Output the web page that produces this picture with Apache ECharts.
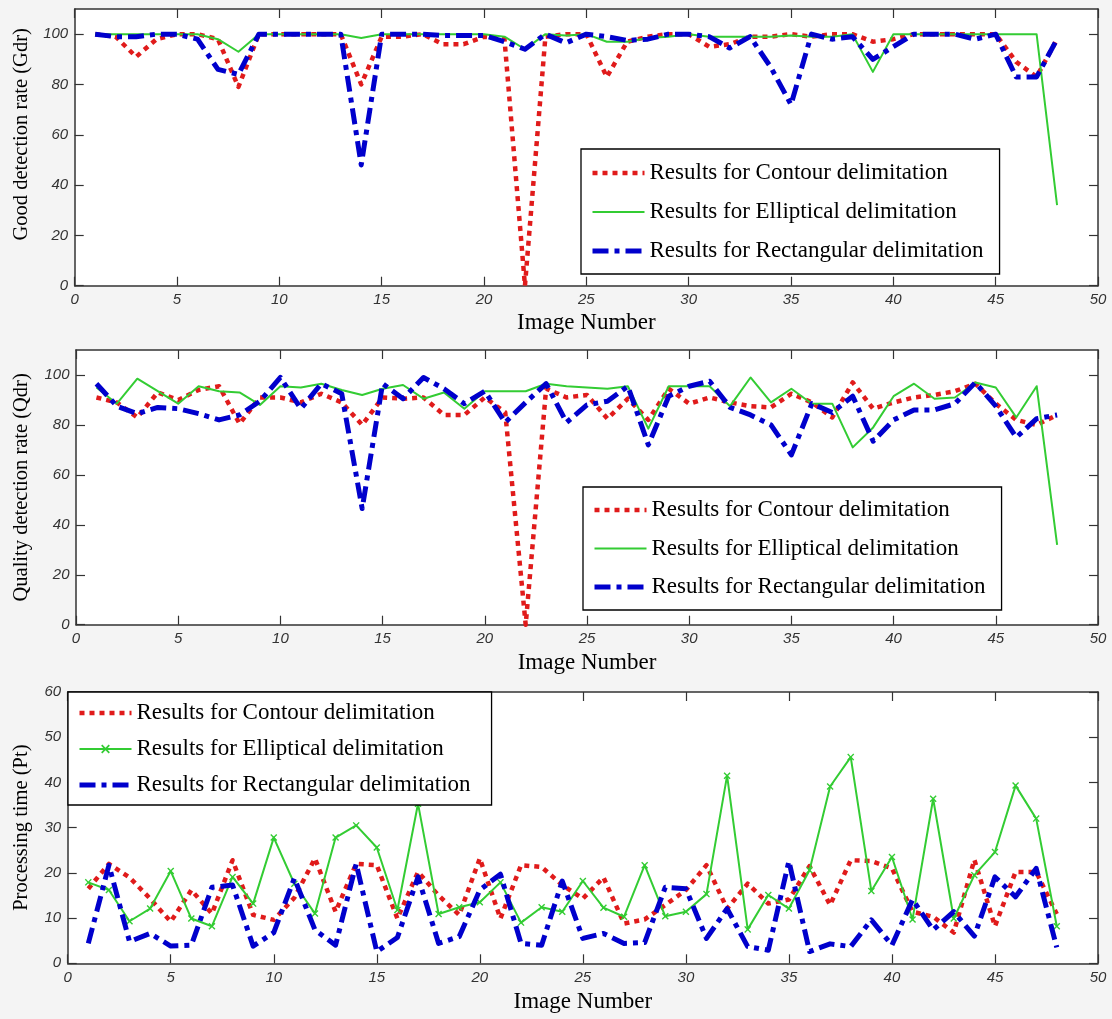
<!DOCTYPE html>
<html><head><meta charset="utf-8">
<script src="https://cdn.jsdelivr.net/npm/echarts@6/dist/echarts.min.js"></script>
<style>html,body{margin:0;padding:0;background:#f4f4f4}#c{width:1112px;height:1019px}</style>
</head><body><div id="c"></div>
<script>
// ---------- data ----------
const imageNumbers = [1,2,3,4,5,6,7,8,9,10,11,12,13,14,15,16,17,18,19,20,21,22,23,24,25,26,27,28,29,30,31,32,33,34,35,36,37,38,39,40,41,42,43,44,45,46,47,48];
const xTicks = [0,5,10,15,20,25,30,35,40,45,50];
const rateTicks = [0,20,40,60,80,100];
const timeTicks = [0,10,20,30,40,50,60];
const seriesLabels = ['Results for Contour delimitation','Results for Elliptical delimitation','Results for Rectangular delimitation'];
const xAxisTitle = 'Image Number';
const yAxisTitles = ['Good detection rate (Gdr)','Quality detection rate (Qdr)','Processing time (Pt)'];

// Panel 1: Good detection rate
const gdrContour = [100,99,91,98,100,100,98,79,100,100,100,100,100,80,99,99,100,96,96,99,98,0,99,100,100,83,97,99,100,100,95,96,99,99,100,99,100,100,97,98,100,100,100,100,100,89,83,98];
const gdrElliptical = [100,100,100,100,100,100,98,93,100,100,100,100,100,98.5,100,100,100,100,100,100,99,94,100,99.5,100,97,97,98.5,99,100,99,99,99,99,99.5,99,99,100,85,100,100,100,100,100,100,100,100,32];
const gdrRectangular = [100,99,99,100,100,98,86,84,100,100,100,100,100,48,100,100,100,99.5,99.5,99.5,97,94,100,96.5,100,99,97.5,98,100,100,99,94.5,99,87,72,100,98,99,90,95,100,100,100,98,100,83,83,98];

// Panel 2: Quality detection rate
const qdrContour = [91,89,83,93,90,94,95.5,80.5,91,91,89,92.5,89,80,91,90.5,91,84,84,91,85,0,94.5,91,92,82.5,90.5,82,94.5,88.5,91,89,87.5,87,92.5,89,83,97,86.5,89,91,92,93.5,96.5,88.5,82,80,84];
const qdrElliptical = [95,88.5,98.5,93.5,88.5,95.5,93.5,93,88,95.5,95,96.5,94,92,94.5,96,90.5,93,86.5,93.5,93.5,93.5,96.5,95.5,95,94.5,95.5,78.5,95.5,95.5,95.5,87.5,99,89,94.5,88.5,88.5,71,79,91.5,96.5,90.5,91,97,95,83,95.5,32];
const qdrRectangular = [96.5,87.5,84.5,87,86.5,84.5,82,84,89.5,99,86.5,96.5,92.5,46.5,96.5,90.5,99,94.5,88.5,93.5,81,89,96.5,81,88,89.5,95.5,72,91.5,95.5,97.5,87,84,80,68,88.5,85,91.5,73.5,82,86,86,88.5,97,87.5,75,82.5,84];

// Panel 3: Processing time
const ptContour = [16.5,22,19,14.3,9.2,16.2,11,22.8,10.7,9.6,14.5,23.2,11.4,22,21.7,9.9,20.2,15,10.7,23.2,9.9,21.7,21.3,17.3,14.3,19,8.8,9.7,12.9,16.2,21.7,12.1,17.6,13.2,14.1,21.5,12.9,22.8,22.6,21,11.4,10.3,6.8,22.9,8.2,20.2,20.2,10.9];
const ptElliptical = [17.9,16.2,9.3,12.1,20.4,9.9,8.2,19.1,13.2,27.8,17.6,11,27.8,30.5,25.6,11.8,35.3,10.9,12.4,13.5,17.9,9,12.4,11.4,18.2,12.3,10.3,21.7,10.4,11.4,15.3,41.5,7.5,15.1,12.1,20.6,39.1,45.6,16,23.5,9.7,36.4,9.9,19.5,24.6,39.3,32,8.2];
const ptRectangular = [4.4,21.7,4.8,6.6,3.8,4,16.8,17.3,3.8,6.8,18.8,7.4,4,22,2.6,5.7,19.1,4.4,5.9,16.2,19.7,4.4,4,18.2,5.5,6.6,4.4,4.6,16.8,16.5,5.5,12.1,3.7,2.9,22.6,2.6,4.3,3.7,9.6,4,14.1,7.4,11.4,6,19.1,14.7,21,3.5];

// ---------- styles ----------
const RED = '#e01b1b', GREEN = '#33cc33', BLUE = '#0000cc';
const AX = '#333';
const tickFont = {fontStyle:'italic', fontFamily:'Liberation Sans, Arial, sans-serif', fontSize:15, color:'#333'};
const serif = 'Liberation Serif, Times New Roman, serif';
const styles = [
  {color: RED, width: 4.5, type: [5,5]},
  {color: GREEN, width: 2, type: 'solid'},
  {color: BLUE, width: 5, type: [16,6,5,6]}
];
const XMARK = 'path://M0,1.4L1.4,0L5,3.6L8.6,0L10,1.4L6.4,5L10,8.6L8.6,10L5,6.4L1.4,10L0,8.6L3.6,5Z';

const panels = [
  {grid:{left:74.7, right:14, top:9, height:276.7}, yMax:110, yTicks:rateTicks, yInterval:20, data:[gdrContour,gdrElliptical,gdrRectangular], yName:yAxisTitles[0], yGap:42.5, yPad:[0,0,0,26], xGap:26, marker:false,
   legend:{left:581, top:149, padding:[12,16,11,9], itemGap:15}},
  {grid:{left:76, right:14, top:350, height:274.7}, yMax:110, yTicks:rateTicks, yInterval:20, data:[qdrContour,qdrElliptical,qdrRectangular], yName:yAxisTitles[1], yGap:43.7, yPad:0, xGap:27, marker:false,
   legend:{left:583, top:487, padding:[11,16,11,9], itemGap:14.5}},
  {grid:{left:67.7, right:14, top:692, height:271.3}, yMax:60, yTicks:timeTicks, yInterval:10, data:[ptContour,ptElliptical,ptRectangular], yName:yAxisTitles[2], yGap:35.4, yPad:0, xGap:27, marker:true,
   legend:{left:68, top:692, padding:[9,21,8,9], itemGap:12}}
];

const grids = [], xAxes = [], yAxes = [], series = [], legends = [];
panels.forEach((p, k) => {
  grids.push(Object.assign({show:true, backgroundColor:'#fff', borderWidth:0}, p.grid));
  const lineCommon = {show:true, onZero:false, lineStyle:{color:AX, width:1.5}};
  const tickCommon = {show:true, inside:true, length:9, lineStyle:{color:AX, width:1.2}};
  xAxes.push({gridIndex:k, type:'value', min:0, max:50, interval:5, position:'bottom',
    axisLine:lineCommon, axisTick:Object.assign({customValues:xTicks}, tickCommon),
    axisLabel:Object.assign({margin:7, customValues:xTicks}, tickFont), splitLine:{show:false},
    name:xAxisTitle, nameLocation:'middle', nameGap:p.xGap, nameTextStyle:{fontFamily:serif, fontSize:23, color:'#000'}});
  xAxes.push({gridIndex:k, type:'value', min:0, max:50, interval:5, position:'top',
    axisLine:lineCommon, axisTick:Object.assign({customValues:xTicks}, tickCommon), axisLabel:{show:false}, splitLine:{show:false}});
  yAxes.push({gridIndex:k, type:'value', min:0, max:p.yMax, interval:p.yInterval, position:'left',
    axisLine:lineCommon, axisTick:Object.assign({customValues:p.yTicks}, tickCommon),
    axisLabel:Object.assign({margin:6.5, customValues:p.yTicks}, tickFont), splitLine:{show:false},
    name:p.yName, nameLocation:'middle', nameGap:p.yGap, nameTextStyle:{fontFamily:serif, fontSize:20.5, color:'#000', padding:p.yPad}});
  yAxes.push({gridIndex:k, type:'value', min:0, max:p.yMax, interval:p.yInterval, position:'right',
    axisLine:lineCommon, axisTick:Object.assign({customValues:p.yTicks}, tickCommon), axisLabel:{show:false}, splitLine:{show:false}});
  const legendData = [];
  seriesLabels.forEach((lab, s) => {
    const name = lab + '|' + (k+1);
    const st = styles[s];
    const withMarker = p.marker && s === 1;
    series.push({
      name, type:'line', xAxisIndex:2*k, yAxisIndex:2*k,
      data: imageNumbers.map((x, i) => [x, p.data[s][i]]),
      symbol: withMarker ? XMARK : 'none', symbolSize: 7, showSymbol: withMarker,
      itemStyle:{color:st.color},
      lineStyle:{color:st.color, width:st.width, type:st.type, cap:'butt', join:'round'},
      z: 2 + s, animation:false, silent:true
    });
    legendData.push({
      name,
      lineStyle:{width:st.width, type:st.type, color:st.color},
      itemStyle: withMarker ? {color:st.color} : {color:'rgba(0,0,0,0)', borderWidth:0, opacity:0}
    });
  });
  legends.push(Object.assign({
    orient:'vertical', data:legendData, selectedMode:false,
    formatter: n => n.split('|')[0],
    itemWidth:52, itemHeight:11,
    textStyle:{fontFamily:serif, fontSize:23, color:'#000', lineHeight:24},
    backgroundColor:'#fff', borderColor:'#000', borderWidth:1.3, borderRadius:0, z:10
  }, p.legend));
});

const chart = echarts.init(document.getElementById('c'), null, {renderer:'canvas'});
chart.setOption({
  backgroundColor:'#f4f4f4',
  animation:false,
  grid:grids, xAxis:xAxes, yAxis:yAxes, series, legend:legends
});
</script>
</body></html>
